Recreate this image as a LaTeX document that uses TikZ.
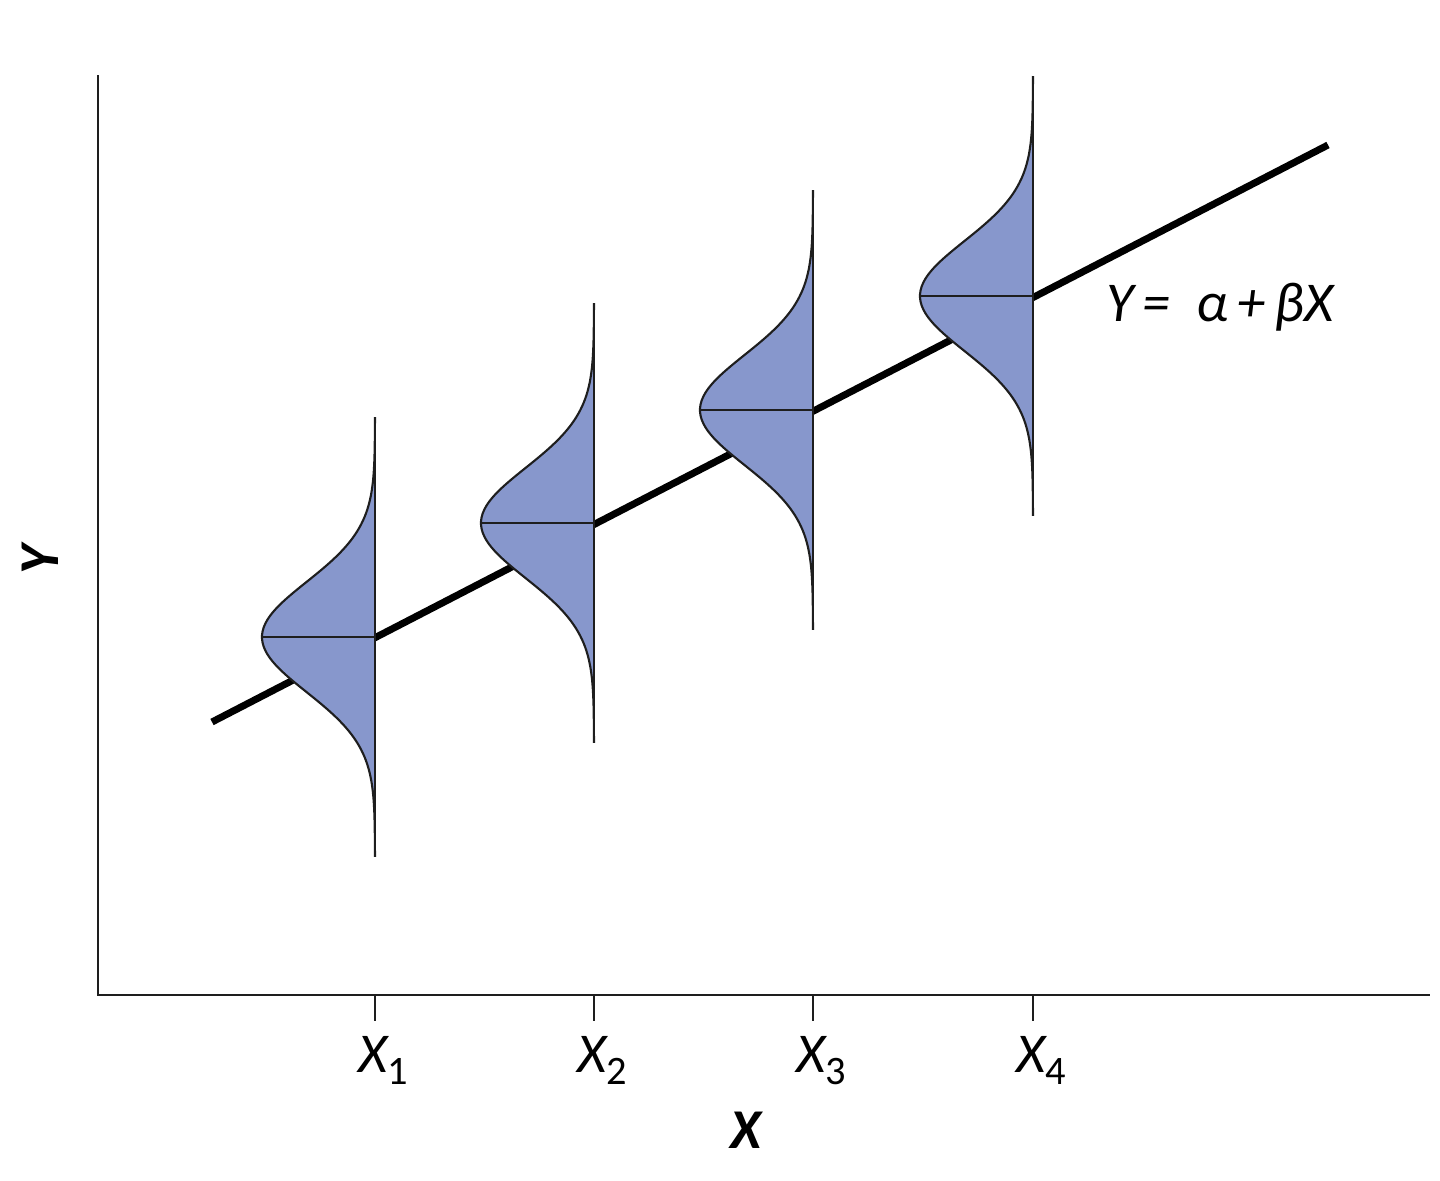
\documentclass[tikz,border=0pt]{standalone}
\usepackage{fontspec}
\setmainfont{Carlito}
\definecolor{distfill}{RGB}{135,151,204}
\definecolor{inkc}{RGB}{30,30,30}
\tikzset{
  axisline/.style={draw=inkc, line width=1.4pt},
  tickline/.style={draw=inkc, line width=1.2pt},
  regline/.style={draw=black, line width=4pt},
  curveline/.style={draw=inkc, line width=1.2pt},
  vertline/.style={draw=inkc, line width=1.2pt},
  meanline/.style={draw=inkc, line width=1.2pt},
  lab/.style={inner sep=0pt, font=\fontsize{32}{36}\selectfont\itshape},
  axlab/.style={inner sep=0pt, font=\fontsize{32}{36}\selectfont\bfseries\itshape},
}
\newcommand{\subnum}[1]{\raisebox{-0.22em}{\fontsize{23}{23}\selectfont\upshape #1}}
\begin{document}
\begin{tikzpicture}[x=0.02cm,y=-0.02cm]
\useasboundingbox (0,0) rectangle (1440,1180);
% axes
\coordinate (ytop) at (98,75);
\coordinate (origin) at (98,995);
\coordinate (xend) at (1430,995);
\draw[axisline] (ytop) -- (origin) -- (xend);
% regression line
\coordinate (rs) at (212,722);
\coordinate (re) at (1328,145);
\draw[regline] (rs) -- (re);
% distributions
\foreach \i/\mx/\my in {1/375/637, 2/594/523, 3/813/410, 4/1033/296}{
  \coordinate (top\i) at (\mx,\my-220);
  \coordinate (bot\i) at (\mx,\my+220);
  \coordinate (mean\i) at (\mx,\my);
  \coordinate (peak\i) at (\mx-113,\my);
  \fill[distfill] plot[domain=-4:4, samples=120, smooth] ({\mx-113*exp(-(\x)*(\x)/2)},{\my+55*\x}) -- cycle;
  \draw[curveline] plot[domain=-4:4, samples=120, smooth] ({\mx-113*exp(-(\x)*(\x)/2)},{\my+55*\x});
  \draw[vertline] (top\i) -- (bot\i);
  \draw[meanline] (peak\i) -- (mean\i);
  \coordinate (tick\i) at (\mx,995);
  \coordinate (tickend\i) at (\mx,1021);
  \draw[tickline] (tick\i) -- (tickend\i);
  \node[lab, anchor=base] (xl\i) at (\mx+8,1072) {X\subnum{\i}};
}
% labels
\node[lab, anchor=base] (eq) at (1220,321) {Y\,=\ \ α\,+\,βX};
\node[axlab] (xlab) at (746,1130) {X};
\node[axlab, rotate=90] (ylab) at (40,560) {Y};
\end{tikzpicture}
\end{document}
